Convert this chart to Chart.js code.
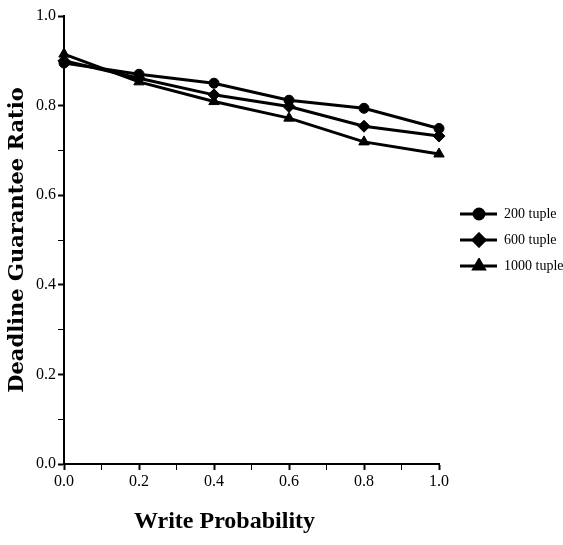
<!DOCTYPE html>
<html>
<head>
<meta charset="utf-8">
<style>
  html, body { margin: 0; padding: 0; background: #fff; }
  #wrap { width: 563px; height: 545px; }
</style>
<script src="https://cdn.jsdelivr.net/npm/chart.js@4.4.0/dist/chart.umd.min.js"></script>
</head>
<body>
<div id="wrap"><canvas id="chart" width="563" height="545"></canvas></div>
<script>
// Data
const writeProb = [0.0, 0.2, 0.4, 0.6, 0.8, 1.0];
const tuple200 = [0.895, 0.870, 0.850, 0.812, 0.794, 0.749];
const tuple600 = [0.900, 0.861, 0.824, 0.798, 0.754, 0.732];
const tuple1000 = [0.915, 0.853, 0.809, 0.772, 0.719, 0.692];
const seriesNames = ['200 tuple', '600 tuple', '1000 tuple'];
const seriesStyles = ['circle', 'rectRot', 'triangle'];
const seriesRadius = [5, 6, 6];

const serif = "'Liberation Serif', 'Times New Roman', serif";

function toPoints(values) {
    return values.map((v, i) => ({ x: writeProb[i], y: v }));
}

// Legend icon: a short line with the marker on it
function makeLegendIcon(style, radius) {
    const c = document.createElement('canvas');
    c.width = 46;
    c.height = 16;
    const ctx = c.getContext('2d');
    ctx.strokeStyle = '#000';
    ctx.fillStyle = '#000';
    ctx.lineWidth = 3;
    ctx.beginPath();
    ctx.moveTo(9, 8);
    ctx.lineTo(46, 8);
    ctx.stroke();
    Chart.helpers.drawPoint(ctx, { pointStyle: style, radius: radius, rotation: 0, borderWidth: 1 }, 28, 8);
    return c;
}

const allSeries = [tuple200, tuple600, tuple1000];
const datasets = allSeries.map((vals, i) => ({
    label: seriesNames[i],
    data: toPoints(vals),
    borderColor: '#000',
    backgroundColor: '#000',
    borderWidth: 3,
    pointStyle: seriesStyles[i],
    pointRadius: seriesRadius[i],
    pointBorderWidth: 1,
    pointBackgroundColor: '#000',
    tension: 0,
    clip: false
}));

const isMajor = v => Math.round(v * 10) % 2 === 0;

new Chart(document.getElementById('chart').getContext('2d'), {
    type: 'line',
    data: { datasets },
    options: {
        responsive: false,
        animation: false,
        layout: { padding: { top: 16, right: 0, bottom: 0, left: 0 } },
        plugins: {
            tooltip: { enabled: false },
            legend: {
                position: 'right',
                fullSize: false,
                maxWidth: 124,
                labels: {
                    usePointStyle: true,
                    pointStyleWidth: 46,
                    padding: 12,
                    color: '#000',
                    font: { family: serif, size: 14 },
                    generateLabels(chart) {
                        const items = Chart.defaults.plugins.legend.labels.generateLabels(chart);
                        items.forEach((it, i) => {
                            it.pointStyle = makeLegendIcon(seriesStyles[i], seriesRadius[i]);
                        });
                        return items;
                    }
                }
            }
        },
        scales: {
            x: {
                type: 'linear',
                min: 0,
                max: 1,
                afterFit(scale) { scale.height = 81; },
                border: { display: true, color: '#000', width: 2 },
                grid: {
                    drawOnChartArea: false,
                    tickLength: 6,
                    tickColor: '#000',
                    tickWidth: ctx => isMajor(ctx.tick.value) ? 2 : 1
                },
                ticks: {
                    stepSize: 0.1,
                    padding: 2,
                    color: '#000',
                    maxRotation: 0,
                    autoSkip: false,
                    font: { family: serif, size: 16 },
                    callback: v => isMajor(v) ? v.toFixed(1) : ''
                },
                title: {
                    display: true,
                    // trailing spaces shift the centred title left, as in the original
                    text: 'Write Probability\u00a0\u00a0\u00a0\u00a0\u00a0\u00a0\u00a0\u00a0\u00a0',
                    color: '#000',
                    font: { family: serif, size: 24, weight: 'bold' },
                    padding: { top: 4, bottom: 9 }
                }
            },
            y: {
                min: 0,
                max: 1,
                afterFit(scale) { scale.width = 64; },
                border: { display: true, color: '#000', width: 2 },
                grid: {
                    drawOnChartArea: false,
                    tickLength: 6,
                    tickColor: '#000',
                    tickWidth: ctx => isMajor(ctx.tick.value) ? 2 : 1
                },
                ticks: {
                    stepSize: 0.1,
                    padding: 2,
                    color: '#000',
                    autoSkip: false,
                    font: { family: serif, size: 16 },
                    callback: v => isMajor(v) ? v.toFixed(1) : ''
                },
                title: {
                    display: true,
                    text: 'Deadline Guarantee Ratio',
                    color: '#000',
                    font: { family: "'DejaVu Serif', serif", size: 21, weight: 'bold' },
                    padding: { top: 5, bottom: 4 }
                }
            }
        }
    }
});
</script>
</body>
</html>
